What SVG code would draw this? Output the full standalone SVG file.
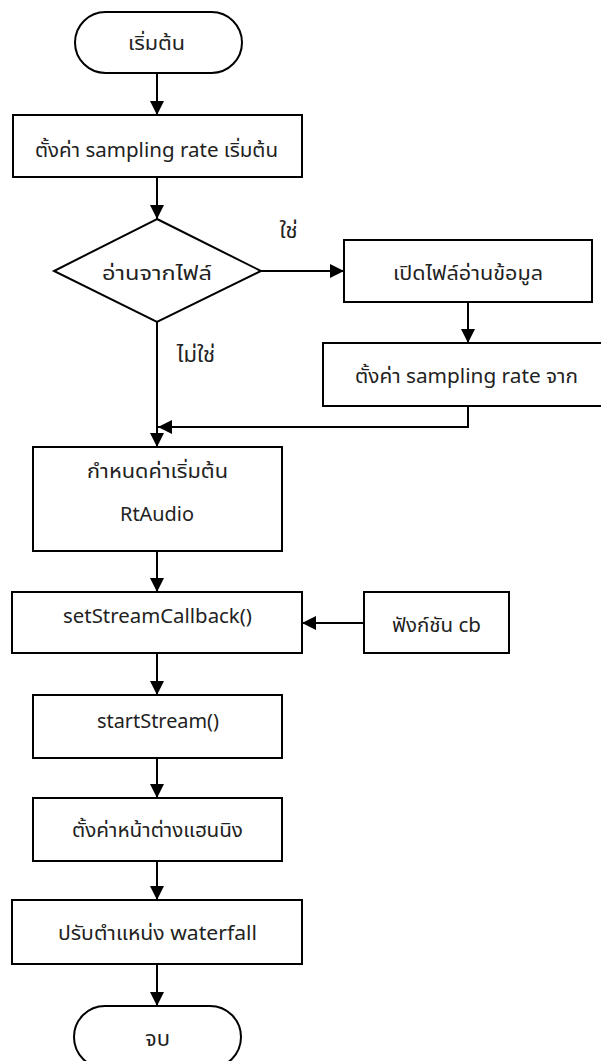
<svg xmlns="http://www.w3.org/2000/svg" width="601" height="1061" viewBox="0 0 601 1061">
<defs>
<style>
.s{fill:#fff;stroke:#000;stroke-width:2}
.c{fill:none;stroke:#000;stroke-width:2}
text{font-family:"Noto Sans Thai","Noto Sans","Leelawadee UI","DejaVu Sans",sans-serif;font-size:20px;fill:#222;text-anchor:middle}
.l{font-size:22px}
</style>
<marker id="a" viewBox="0 0 14 14" refX="14" refY="7" markerWidth="14" markerHeight="14" markerUnits="userSpaceOnUse" orient="auto">
<path d="M0,0 L14,7 L0,14 Z" fill="#000"/>
</marker>
</defs>
<rect width="601" height="1061" fill="#fff"/>
<g id="connectors">
<line class="c" x1="157" y1="73" x2="157" y2="115" marker-end="url(#a)"/>
<line class="c" x1="157" y1="177" x2="157" y2="219" marker-end="url(#a)"/>
<line class="c" x1="261" y1="271" x2="344" y2="271" marker-end="url(#a)"/>
<line class="c" x1="468" y1="302" x2="468" y2="343" marker-end="url(#a)"/>
<polyline class="c" points="468,406 468,427 158,427" marker-end="url(#a)"/>
<line class="c" x1="157" y1="322" x2="157" y2="447" marker-end="url(#a)"/>
<line class="c" x1="157" y1="551" x2="157" y2="592" marker-end="url(#a)"/>
<line class="c" x1="364" y1="623" x2="302" y2="623" marker-end="url(#a)"/>
<line class="c" x1="157" y1="653" x2="157" y2="695" marker-end="url(#a)"/>
<line class="c" x1="157" y1="758" x2="157" y2="798" marker-end="url(#a)"/>
<line class="c" x1="157" y1="861" x2="157" y2="900" marker-end="url(#a)"/>
<line class="c" x1="157" y1="964" x2="157" y2="1006" marker-end="url(#a)"/>
<text class="l" x="288.5" y="238">ใช่</text>
<text class="l" x="196" y="362">ไม่ใช่</text>
</g>
<g id="start">
<rect class="s" x="75" y="12" width="167" height="61" rx="30.5"/>
<text x="156.5" y="50" textLength="57" lengthAdjust="spacingAndGlyphs">เริ่มต้น</text>
</g>
<g id="init-rate">
<rect class="s" x="13" y="115" width="289" height="62"/>
<text x="156.5" y="157" textLength="243" lengthAdjust="spacingAndGlyphs">ตั้งค่า sampling rate เริ่มต้น</text>
</g>
<g id="decision">
<polygon class="s" points="157,219 261,271 157,322 54,271"/>
<text x="157" y="280" textLength="110" lengthAdjust="spacingAndGlyphs">อ่านจากไฟล์</text>
</g>
<g id="open-file">
<rect class="s" x="344" y="240" width="248" height="62"/>
<text x="468" y="280" textLength="150" lengthAdjust="spacingAndGlyphs">เปิดไฟล์อ่านข้อมูล</text>
</g>
<g id="rate-from-file">
<rect class="s" x="323" y="343" width="290" height="63"/>
<text x="466.5" y="383" textLength="223" lengthAdjust="spacingAndGlyphs">ตั้งค่า sampling rate จาก</text>
</g>
<g id="init-rtaudio">
<rect class="s" x="33" y="447" width="249" height="104"/>
<text x="157.5" y="478" textLength="141" lengthAdjust="spacingAndGlyphs">กำหนดค่าเริ่มต้น</text>
<text x="157" y="521" textLength="74" lengthAdjust="spacingAndGlyphs">RtAudio</text>
</g>
<g id="set-callback">
<rect class="s" x="12" y="592" width="290" height="61"/>
<text x="157.5" y="623" textLength="189" lengthAdjust="spacingAndGlyphs">setStreamCallback()</text>
</g>
<g id="cb">
<rect class="s" x="364" y="592" width="145" height="61"/>
<text x="436.5" y="632" textLength="89" lengthAdjust="spacingAndGlyphs">ฟังก์ชัน cb</text>
</g>
<g id="start-stream">
<rect class="s" x="33" y="695" width="249" height="63"/>
<text x="158" y="728" textLength="122" lengthAdjust="spacingAndGlyphs">startStream()</text>
</g>
<g id="hanning">
<rect class="s" x="33" y="798" width="249" height="63"/>
<text x="157.5" y="837" textLength="171" lengthAdjust="spacingAndGlyphs">ตั้งค่าหน้าต่างแฮนนิง</text>
</g>
<g id="waterfall">
<rect class="s" x="12" y="900" width="290" height="64"/>
<text x="157.5" y="940" textLength="199" lengthAdjust="spacingAndGlyphs">ปรับตำแหน่ง waterfall</text>
</g>
<g id="end">
<rect class="s" x="74" y="1006" width="167" height="62" rx="31"/>
<text class="l" x="157.5" y="1046">จบ</text>
</g>
</svg>
